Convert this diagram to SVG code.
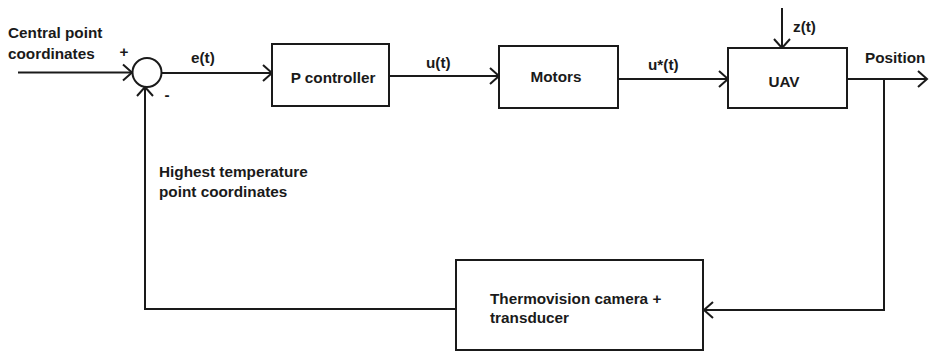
<svg xmlns="http://www.w3.org/2000/svg" width="931" height="353" viewBox="0 0 931 353">
<defs>
<style>
.box{fill:#fff;stroke:#1a1a1a;stroke-width:2}
.ln{fill:none;stroke:#1a1a1a;stroke-width:2}
text{font-family:"Liberation Sans",Arial,sans-serif;font-weight:bold;font-size:15.3px;fill:#1a1a1a}
.c{text-anchor:middle}
</style>
<marker id="arr" markerUnits="userSpaceOnUse" markerWidth="20" markerHeight="20" viewBox="-11 -10 13 20" refX="0" refY="0" orient="auto">
<path d="M-9,-8 L0,0 L-9,8" fill="none" stroke="#1a1a1a" stroke-width="2"/>
</marker>
</defs>
<rect width="931" height="353" fill="#fff"/>
<g id="connectors">
<line class="ln" x1="18" y1="72.5" x2="132" y2="72.5" marker-end="url(#arr)"/>
<line class="ln" x1="162" y1="73" x2="272" y2="73" marker-end="url(#arr)"/>
<line class="ln" x1="389" y1="76" x2="499" y2="76" marker-end="url(#arr)"/>
<line class="ln" x1="618" y1="79" x2="728" y2="79" marker-end="url(#arr)"/>
<line class="ln" x1="782" y1="8" x2="782" y2="48" marker-end="url(#arr)"/>
<line class="ln" x1="847" y1="79" x2="927" y2="79" marker-end="url(#arr)"/>
<polyline class="ln" points="884,79 884,310 704,310" marker-end="url(#arr)"/>
<polyline class="ln" points="456,309 145,309 145,87" marker-end="url(#arr)"/>
</g>
<g id="sum">
<circle class="box" cx="147" cy="72.5" r="14.5"/>
<text x="124" y="57" class="c">+</text>
<text x="167" y="100" class="c">-</text>
</g>
<g id="pcontroller">
<rect class="box" x="272" y="44" width="117" height="62"/>
<text x="333" y="83" class="c">P controller</text>
</g>
<g id="motors">
<rect class="box" x="499" y="46" width="119" height="62"/>
<text x="556" y="82" class="c">Motors</text>
</g>
<g id="uav">
<rect class="box" x="728" y="48" width="119" height="60"/>
<text x="784" y="87" class="c">UAV</text>
</g>
<g id="thermo">
<rect class="box" x="456" y="260" width="247" height="90"/>
<text x="490" y="304">Thermovision camera +</text>
<text x="490" y="323">transducer</text>
</g>
<g id="labels">
<text x="8" y="38">Central point</text>
<text x="8" y="59">coordinates</text>
<text x="191" y="63">e(t)</text>
<text x="426" y="68">u(t)</text>
<text x="648" y="70">u*(t)</text>
<text x="793" y="32">z(t)</text>
<text x="865" y="63">Position</text>
<text x="159" y="177">Highest temperature</text>
<text x="159" y="197">point coordinates</text>
</g>
</svg>
